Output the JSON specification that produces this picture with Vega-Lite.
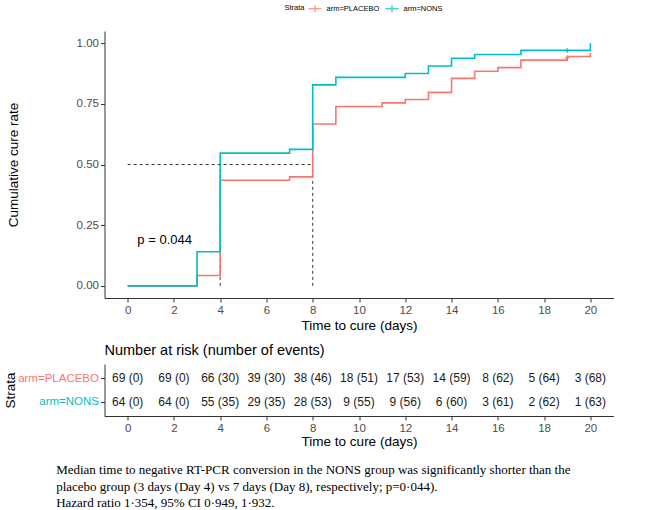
{
  "$schema": "https://vega.github.io/schema/vega-lite/v6.json",
  "padding": {"left": 3.5, "top": 1, "right": 10, "bottom": 5},
  "spacing": 10,
  "config": {
    "view": {"stroke": null},
    "font": "Liberation Sans",
    "axis": {
      "grid": false,
      "domainColor": "#333333",
      "tickColor": "#333333",
      "tickSize": 4,
      "labelPadding": 2,
      "labelFontSize": 11.5,
      "labelColor": "#4d4d4d",
      "titleFontSize": 13.5,
      "titleFontWeight": "normal",
      "titleColor": "#000000"
    }
  },
  "datasets": {
    "curves": [
      {"time": 0, "rate": 0, "arm": "arm=PLACEBO"},
      {"time": 3, "rate": 0.043, "arm": "arm=PLACEBO"},
      {"time": 4, "rate": 0.435, "arm": "arm=PLACEBO"},
      {"time": 7, "rate": 0.449, "arm": "arm=PLACEBO"},
      {"time": 8, "rate": 0.667, "arm": "arm=PLACEBO"},
      {"time": 9, "rate": 0.739, "arm": "arm=PLACEBO"},
      {"time": 11, "rate": 0.754, "arm": "arm=PLACEBO"},
      {"time": 12, "rate": 0.768, "arm": "arm=PLACEBO"},
      {"time": 13, "rate": 0.797, "arm": "arm=PLACEBO"},
      {"time": 14, "rate": 0.855, "arm": "arm=PLACEBO"},
      {"time": 15, "rate": 0.884, "arm": "arm=PLACEBO"},
      {"time": 16, "rate": 0.899, "arm": "arm=PLACEBO"},
      {"time": 17, "rate": 0.93, "arm": "arm=PLACEBO"},
      {"time": 19, "rate": 0.945, "arm": "arm=PLACEBO"},
      {"time": 20, "rate": 0.96, "arm": "arm=PLACEBO"},
      {"time": 0, "rate": 0, "arm": "arm=NONS"},
      {"time": 3, "rate": 0.1406, "arm": "arm=NONS"},
      {"time": 4, "rate": 0.547, "arm": "arm=NONS"},
      {"time": 7, "rate": 0.5625, "arm": "arm=NONS"},
      {"time": 8, "rate": 0.828, "arm": "arm=NONS"},
      {"time": 9, "rate": 0.859, "arm": "arm=NONS"},
      {"time": 12, "rate": 0.875, "arm": "arm=NONS"},
      {"time": 13, "rate": 0.906, "arm": "arm=NONS"},
      {"time": 14, "rate": 0.9375, "arm": "arm=NONS"},
      {"time": 15, "rate": 0.953, "arm": "arm=NONS"},
      {"time": 17, "rate": 0.97, "arm": "arm=NONS"},
      {"time": 20, "rate": 1.0, "arm": "arm=NONS"}
    ],
    "censor": [
      {"time": 19, "rate": 0.94, "arm": "arm=PLACEBO"},
      {"time": 19, "rate": 0.97, "arm": "arm=NONS"}
    ],
    "guides": [
      {"x": 0, "x2": 8, "y": 0.5, "y2": 0.5},
      {"x": 4, "x2": 4, "y": 0, "y2": 0.5},
      {"x": 8, "x2": 8, "y": 0, "y2": 0.5}
    ],
    "pval": [
      {"time": 1.6, "rate": 0.19, "label": "p = 0.044"}
    ],
    "risk": [
      {"time": 0, "arm": "arm=PLACEBO", "label": "69 (0)"},
      {"time": 2, "arm": "arm=PLACEBO", "label": "69 (0)"},
      {"time": 4, "arm": "arm=PLACEBO", "label": "66 (30)"},
      {"time": 6, "arm": "arm=PLACEBO", "label": "39 (30)"},
      {"time": 8, "arm": "arm=PLACEBO", "label": "38 (46)"},
      {"time": 10, "arm": "arm=PLACEBO", "label": "18 (51)"},
      {"time": 12, "arm": "arm=PLACEBO", "label": "17 (53)"},
      {"time": 14, "arm": "arm=PLACEBO", "label": "14 (59)"},
      {"time": 16, "arm": "arm=PLACEBO", "label": "8 (62)"},
      {"time": 18, "arm": "arm=PLACEBO", "label": "5 (64)"},
      {"time": 20, "arm": "arm=PLACEBO", "label": "3 (68)"},
      {"time": 0, "arm": "arm=NONS", "label": "64 (0)"},
      {"time": 2, "arm": "arm=NONS", "label": "64 (0)"},
      {"time": 4, "arm": "arm=NONS", "label": "55 (35)"},
      {"time": 6, "arm": "arm=NONS", "label": "29 (35)"},
      {"time": 8, "arm": "arm=NONS", "label": "28 (53)"},
      {"time": 10, "arm": "arm=NONS", "label": "9 (55)"},
      {"time": 12, "arm": "arm=NONS", "label": "9 (56)"},
      {"time": 14, "arm": "arm=NONS", "label": "6 (60)"},
      {"time": 16, "arm": "arm=NONS", "label": "3 (61)"},
      {"time": 18, "arm": "arm=NONS", "label": "2 (62)"},
      {"time": 20, "arm": "arm=NONS", "label": "1 (63)"}
    ]
  },
  "title": {
    "text": [
      "Median time to negative RT-PCR conversion in the NONS group was significantly shorter than the",
      "placebo group (3 days (Day 4) vs 7 days (Day 8), respectively; p=0·044).",
      "Hazard ratio 1·354, 95% CI 0·949, 1·932."
    ],
    "orient": "bottom",
    "anchor": "start",
    "dx": 52.5,
    "offset": 16,
    "font": "Liberation Serif",
    "fontSize": 13,
    "fontWeight": "normal",
    "color": "#000000",
    "lineHeight": 16.5
  },
  "vconcat": [
    {
      "width": 509,
      "height": 267,
      "layer": [
        {
          "data": {"name": "guides"},
          "mark": {"type": "rule", "color": "#000000", "strokeWidth": 0.8, "strokeDash": [3, 3]},
          "encoding": {
            "x": {"field": "x", "type": "quantitative", "scale": {"domain": [-1, 21], "nice": false, "zero": false}},
            "x2": {"field": "x2"},
            "y": {"field": "y", "type": "quantitative", "scale": {"domain": [-0.05, 1.05], "nice": false, "zero": false}},
            "y2": {"field": "y2"}
          }
        },
        {
          "data": {"name": "curves"},
          "mark": {"type": "line", "interpolate": "step-after", "strokeWidth": 1.6},
          "encoding": {
            "x": {
              "field": "time", "type": "quantitative",
              "scale": {"domain": [-1, 21], "nice": false, "zero": false},
              "axis": {"values": [0, 2, 4, 6, 8, 10, 12, 14, 16, 18, 20], "title": "Time to cure (days)", "titlePadding": 3}
            },
            "y": {
              "field": "rate", "type": "quantitative",
              "scale": {"domain": [-0.05, 1.05], "nice": false, "zero": false},
              "axis": {"values": [0, 0.25, 0.5, 0.75, 1], "format": ".2f", "title": "Cumulative cure rate", "titlePadding": 56}
            },
            "color": {
              "field": "arm", "type": "nominal",
              "scale": {"domain": ["arm=PLACEBO", "arm=NONS"], "range": ["#F8766D", "#00BFC4"]},
              "legend": {
                "title": "Strata",
                "orient": "none",
                "direction": "horizontal",
                "titleOrient": "left",
                "legendX": 180,
                "legendY": -30,
                "symbolType": "M-1,0H1M0,-0.5V0.5",
                "symbolSize": 169,
                "symbolStrokeWidth": 1.5,
                "labelFontSize": 7.5,
                "titleFontSize": 7.5,
                "titleFontWeight": "normal",
                "titleColor": "#000000",
                "labelColor": "#000000",
                "labelOffset": 4,
                "columnPadding": 3,
                "titlePadding": 2
              }
            }
          }
        },
        {
          "data": {"name": "censor"},
          "mark": {"type": "point", "shape": "M-1,0H1M0,-1V1", "size": 25, "strokeWidth": 1.5, "filled": false},
          "encoding": {
            "x": {"field": "time", "type": "quantitative"},
            "y": {"field": "rate", "type": "quantitative"},
            "color": {"field": "arm", "type": "nominal"}
          }
        },
        {
          "data": {"name": "pval"},
          "mark": {"type": "text", "fontSize": 13, "color": "#000000"},
          "encoding": {
            "x": {"field": "time", "type": "quantitative"},
            "y": {"field": "rate", "type": "quantitative"},
            "text": {"field": "label"}
          }
        }
      ]
    },
    {
      "width": 509,
      "height": 52,
      "title": {"text": "Number at risk (number of events)", "anchor": "start", "frame": "group", "fontSize": 14.5, "fontWeight": "normal", "color": "#000000", "offset": 6},
      "data": {"name": "risk"},
      "mark": {"type": "text", "fontSize": 12, "color": "#1a1a1a"},
      "encoding": {
        "x": {
          "field": "time", "type": "quantitative",
          "scale": {"domain": [-1, 21], "nice": false, "zero": false},
          "axis": {"values": [0, 2, 4, 6, 8, 10, 12, 14, 16, 18, 20], "title": "Time to cure (days)", "titlePadding": 1}
        },
        "y": {
          "field": "arm", "type": "nominal",
          "sort": ["arm=PLACEBO", "arm=NONS"],
          "scale": {"type": "point", "padding": 0.6},
          "axis": {
            "title": "Strata",
            "titlePadding": 0,
            "labelFontSize": 11.5,
            "labelColor": {"expr": "datum.value == 'arm=PLACEBO' ? '#F8766D' : '#00BFC4'"}
          }
        },
        "text": {"field": "label"}
      }
    }
  ]
}
